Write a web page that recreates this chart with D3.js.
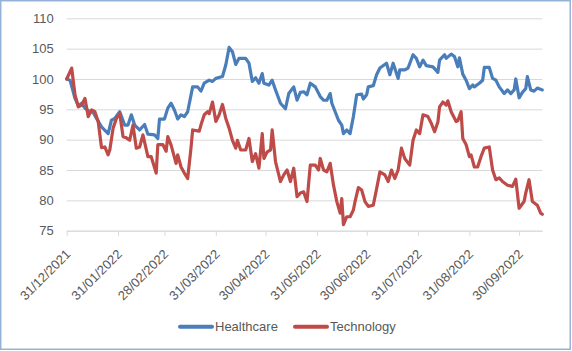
<!DOCTYPE html>
<html lang="en">
<head>
    <meta charset="UTF-8">
    <script src="https://cdnjs.cloudflare.com/ajax/libs/d3/7.8.5/d3.min.js"></script>
    <style>
        body { margin: 0; background: #fff; }
        svg { display: block; font-family: "Liberation Sans", Arial, sans-serif; }
    </style>
</head>
<body>
    <svg width="572" height="351"></svg>
    <script>
        const seriesNames = ['Healthcare', 'Technology'];
        const seriesColors = ['#4a7ebb', '#be4b48'];

        const hcDates = ['2021-12-31', '2022-01-02', '2022-01-05', '2022-01-07', '2022-01-09', '2022-01-11', '2022-01-14', '2022-01-16', '2022-01-18', '2022-01-21',
            '2022-01-25', '2022-01-27', '2022-01-29', '2022-02-01', '2022-02-04', '2022-02-06', '2022-02-08', '2022-02-10', '2022-02-13', '2022-02-16',
            '2022-02-18', '2022-02-22', '2022-02-24', '2022-02-25', '2022-02-28', '2022-03-02', '2022-03-04', '2022-03-06', '2022-03-08', '2022-03-10',
            '2022-03-12', '2022-03-14', '2022-03-17', '2022-03-20', '2022-03-22', '2022-03-24', '2022-03-27', '2022-03-29', '2022-03-31', '2022-04-04',
            '2022-04-06', '2022-04-08', '2022-04-10', '2022-04-12', '2022-04-14', '2022-04-18', '2022-04-20', '2022-04-22', '2022-04-24', '2022-04-26',
            '2022-04-28', '2022-04-29', '2022-05-02', '2022-05-04', '2022-05-06', '2022-05-09', '2022-05-12', '2022-05-14', '2022-05-17', '2022-05-19',
            '2022-05-21', '2022-05-23', '2022-05-25', '2022-05-27', '2022-05-30', '2022-06-02', '2022-06-04', '2022-06-06', '2022-06-08', '2022-06-09',
            '2022-06-11', '2022-06-13', '2022-06-15', '2022-06-16', '2022-06-18', '2022-06-20', '2022-06-22', '2022-06-24', '2022-06-27', '2022-06-28',
            '2022-06-30', '2022-07-01', '2022-07-04', '2022-07-06', '2022-07-08', '2022-07-12', '2022-07-14', '2022-07-16', '2022-07-19', '2022-07-20',
            '2022-07-23', '2022-07-25', '2022-07-28', '2022-07-30', '2022-08-01', '2022-08-03', '2022-08-05', '2022-08-09', '2022-08-12', '2022-08-13',
            '2022-08-16', '2022-08-17', '2022-08-20', '2022-08-22', '2022-08-24', '2022-08-25', '2022-08-27', '2022-08-29', '2022-08-31', '2022-09-02',
            '2022-09-03', '2022-09-06', '2022-09-08', '2022-09-09', '2022-09-12', '2022-09-14', '2022-09-16', '2022-09-18', '2022-09-21', '2022-09-23',
            '2022-09-25', '2022-09-27', '2022-09-28', '2022-09-30', '2022-10-02', '2022-10-04', '2022-10-05', '2022-10-07', '2022-10-09', '2022-10-11',
            '2022-10-14'];
        const hcValues = [100, 99.8, 96.8, 95.6, 96, 95.2, 94.6, 94.5, 93.5, 92.1,
            91, 93.2, 93.5, 94.6, 92.4, 92.4, 94.1, 92.4, 91.6, 92.5,
            90.9, 90.8, 90.2, 93.4, 93.4, 95.2, 96, 94.9, 93.4, 94.1,
            93.8, 94.6, 98.7, 98.7, 98, 99.3, 99.8, 99.6, 100.1, 100.4,
            102.3, 105.2, 104.5, 102.4, 103.4, 103.4, 102.6, 99.6, 100.2, 99.3,
            100.9, 99.3, 99, 99.8, 98.2, 96, 95.1, 97.6, 98.7, 96.5,
            97.8, 97.9, 97.4, 99.3, 98.7, 97.1, 96.5, 96.5, 97.6, 96,
            94.6, 93.2, 92.4, 91, 91.6, 91, 93.8, 97.4, 97.5, 96.7,
            97.4, 98.7, 98.9, 100.7, 101.8, 102.6, 100.7, 102.6, 100.1, 101.5,
            101.5, 101.8, 104, 103.4, 102, 103.1, 102.2, 102, 101.1, 103.1,
            104, 103.4, 104.1, 103.7, 102, 103.5, 100.8, 99.8, 98.4, 99,
            98.7, 99.3, 99.8, 101.9, 101.9, 100.1, 99.8, 98.7, 97.6, 98.2,
            97.6, 98.2, 100, 96.9, 97.8, 98.4, 100.4, 98.2, 98, 98.5,
            98.2];

        const techDates = ['2021-12-31', '2022-01-03', '2022-01-05', '2022-01-07', '2022-01-09', '2022-01-11', '2022-01-13', '2022-01-15', '2022-01-17', '2022-01-19',
            '2022-01-21', '2022-01-23', '2022-01-25', '2022-01-26', '2022-01-28', '2022-01-30', '2022-02-01', '2022-02-03', '2022-02-05', '2022-02-07',
            '2022-02-09', '2022-02-11', '2022-02-13', '2022-02-15', '2022-02-18', '2022-02-20', '2022-02-23', '2022-02-24', '2022-02-27', '2022-03-01',
            '2022-03-02', '2022-03-04', '2022-03-07', '2022-03-08', '2022-03-10', '2022-03-12', '2022-03-14', '2022-03-16', '2022-03-17', '2022-03-21',
            '2022-03-22', '2022-03-24', '2022-03-26', '2022-03-27', '2022-03-29', '2022-03-31', '2022-04-02', '2022-04-04', '2022-04-06', '2022-04-08',
            '2022-04-10', '2022-04-12', '2022-04-13', '2022-04-15', '2022-04-18', '2022-04-20', '2022-04-22', '2022-04-24', '2022-04-26', '2022-04-28',
            '2022-04-29', '2022-05-01', '2022-05-03', '2022-05-04', '2022-05-06', '2022-05-09', '2022-05-11', '2022-05-13', '2022-05-15', '2022-05-17',
            '2022-05-19', '2022-05-21', '2022-05-23', '2022-05-25', '2022-05-27', '2022-05-30', '2022-06-01', '2022-06-02', '2022-06-04', '2022-06-06',
            '2022-06-08', '2022-06-10', '2022-06-12', '2022-06-14', '2022-06-15', '2022-06-16', '2022-06-18', '2022-06-20', '2022-06-22', '2022-06-23',
            '2022-06-25', '2022-06-27', '2022-06-29', '2022-07-01', '2022-07-04', '2022-07-06', '2022-07-08', '2022-07-11', '2022-07-13', '2022-07-15',
            '2022-07-17', '2022-07-19', '2022-07-21', '2022-07-23', '2022-07-26', '2022-07-28', '2022-07-30', '2022-08-01', '2022-08-03', '2022-08-06',
            '2022-08-08', '2022-08-10', '2022-08-12', '2022-08-13', '2022-08-15', '2022-08-17', '2022-08-18', '2022-08-20', '2022-08-23', '2022-08-24',
            '2022-08-26', '2022-08-27', '2022-08-29', '2022-08-31', '2022-09-01', '2022-09-03', '2022-09-05', '2022-09-07', '2022-09-09', '2022-09-12',
            '2022-09-14', '2022-09-16', '2022-09-18', '2022-09-20', '2022-09-23', '2022-09-26', '2022-09-28', '2022-09-30', '2022-10-03', '2022-10-04',
            '2022-10-06', '2022-10-08', '2022-10-11', '2022-10-13', '2022-10-14'];
        const techValues = [100, 101.8, 97.4, 95.4, 95.7, 96.8, 93.8, 94.9, 94.6, 93,
            88.7, 88.8, 87.5, 88.3, 91.9, 93.5, 94.3, 90.5, 90.3, 89.9,
            92.4, 88.6, 88.8, 90.8, 87.2, 87.2, 84.5, 89.2, 89.2, 88.1,
            90.5, 89.1, 86.1, 87.5, 85.5, 84.5, 83.6, 88.6, 91.6, 91.4,
            92.4, 94.1, 94.6, 94.3, 96.2, 93, 94.1, 95.8, 93.5, 91.9,
            89.9, 88.6, 89.9, 88.3, 88.3, 90.2, 86.4, 87.7, 85.3, 91,
            86.9, 88, 88.3, 91.6, 86.4, 83.1, 84.2, 85, 83.1, 85.3,
            80.6, 81.2, 81.4, 79.8, 85.8, 85.8, 85, 86.9, 85, 84.7,
            86.1, 82.5, 79.8, 77.9, 80.3, 76, 77.3, 77.3, 78.4, 79.8,
            82.1, 81.7, 79.8, 79, 79.2, 81.9, 84.7, 84.2, 83.1, 85,
            83.6, 85, 88.6, 86.9, 85.8, 89.9, 91.6, 91, 94.1, 93.8,
            92.7, 91.3, 92.9, 95.4, 96.2, 95.7, 96.4, 94.6, 93, 93.1,
            94.6, 90.2, 89.2, 87.2, 87.5, 85.5, 85.5, 87.2, 88.6, 88.8,
            85, 83.4, 83.7, 83.1, 82.5, 82.3, 83.5, 78.7, 79.8, 81.2,
            83.4, 79.8, 79.2, 77.9, 77.7];

        const xTickDates = ['2021-12-31', '2022-01-31', '2022-02-28', '2022-03-31', '2022-04-30',
            '2022-05-31', '2022-06-30', '2022-07-31', '2022-08-31', '2022-09-30'];
        const yTicks = [75, 80, 85, 90, 95, 100, 105, 110];

        const parse = d3.timeParse('%Y-%m-%d');
        const fmt = d3.timeFormat('%d/%m/%Y');
        const textColor = '#595959';
        const gridColor = '#d9d9d9';

        const svg = d3.select('svg');

        // chart border
        svg.append('rect')
            .attr('x', 0.75).attr('y', 0.75)
            .attr('width', 569.5).attr('height', 348.5)
            .attr('fill', '#fff')
            .attr('stroke', '#95b3d7')
            .attr('stroke-width', 1.5);

        const x = d3.scaleTime()
            .domain([parse('2021-12-31'), parse('2022-10-14')])
            .range([66.7, 542.3]);
        const y = d3.scaleLinear().domain([75, 110]).range([230.7, 18.3]);

        // horizontal gridlines + value labels
        const yAxis = svg.append('g')
            .attr('transform', 'translate(66.7,0)')
            .call(d3.axisLeft(y).tickValues(yTicks).tickSize(-(542.3 - 66.7)).tickPadding(13));
        yAxis.select('.domain').remove();
        yAxis.selectAll('line').attr('stroke', gridColor);
        yAxis.selectAll('text')
            .attr('fill', textColor)
            .style('font-size', '13px');

        // date axis
        const xAxis = svg.append('g')
            .attr('transform', 'translate(0,230.7)')
            .call(d3.axisBottom(x).tickValues(xTickDates.map(parse)).tickFormat(fmt)
                .tickSize(5).tickSizeOuter(0));
        xAxis.select('.domain').attr('stroke', gridColor);
        xAxis.selectAll('line').attr('stroke', gridColor);
        xAxis.selectAll('text')
            .attr('fill', textColor)
            .style('font-size', '13px')
            .attr('text-anchor', 'end')
            .attr('x', 0).attr('y', 0).attr('dy', '0.35em')
            .attr('transform', 'translate(1,21) rotate(-45)');

        // lines
        const series = [
            hcDates.map((d, i) => ({ date: parse(d), value: hcValues[i] })),
            techDates.map((d, i) => ({ date: parse(d), value: techValues[i] }))
        ];
        const line = d3.line().x(d => x(d.date)).y(d => y(d.value));

        svg.selectAll('path.series')
            .data(series)
            .enter()
            .append('path')
            .attr('class', 'series')
            .attr('d', line)
            .attr('fill', 'none')
            .attr('stroke', (d, i) => seriesColors[i])
            .attr('stroke-width', 3.2)
            .attr('stroke-linejoin', 'round')
            .attr('stroke-linecap', 'round');

        // legend
        const legendX = [180, 295];
        const legend = svg.selectAll('g.legend')
            .data(seriesNames)
            .enter()
            .append('g')
            .attr('class', 'legend')
            .attr('transform', (d, i) => `translate(${legendX[i]},326.7)`);
        legend.append('line')
            .attr('x1', 0).attr('x2', 32)
            .attr('stroke', (d, i) => seriesColors[i])
            .attr('stroke-width', 4)
            .attr('stroke-linecap', 'round');
        legend.append('text')
            .attr('x', 35).attr('dy', '0.35em')
            .attr('fill', textColor)
            .style('font-size', '13px')
            .text(d => d);
    </script>
</body>
</html>
